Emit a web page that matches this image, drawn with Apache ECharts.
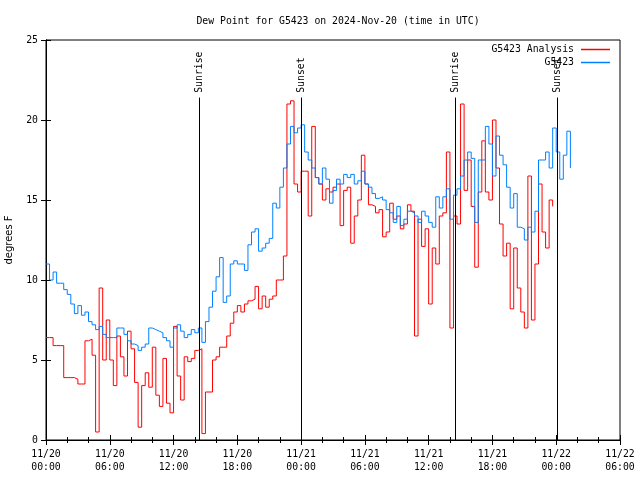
<!DOCTYPE html>
<html><head><meta charset="utf-8">
<script src="https://cdn.jsdelivr.net/npm/echarts@6/dist/echarts.min.js"></script>
<style>html,body{margin:0;padding:0;background:#fff}#c{width:640px;height:480px}</style>
</head><body><div id="c"></div>
<script>
// sampling: hours since 11/20 00:00 UTC, one reading every 20 minutes
const sampleStepHours = 1/3;
const analysisValues = [
6.4,6.4,5.9,5.9,5.9,3.9,3.9,3.9,3.8,3.5,
3.5,6.2,6.3,5.3,0.5,9.5,5.0,7.5,5.0,3.4,
6.5,5.2,4.0,6.8,5.7,3.6,0.8,3.4,4.2,3.3,
5.8,2.8,2.1,5.1,2.3,1.7,7.1,4.0,2.5,5.2,
4.9,5.1,5.6,5.7,0.4,3.0,3.0,5.0,5.2,5.8,
5.8,6.5,7.3,8.0,8.4,8.0,8.5,8.7,8.8,9.6,
8.2,9.0,8.3,8.8,9.0,10.0,10.0,11.5,21.0,21.2,
16.0,15.5,16.8,16.8,14.0,19.6,16.4,16.0,15.0,15.7,
15.5,15.8,16.0,13.4,15.6,15.8,12.3,14.0,15.0,17.8,
16.0,14.7,14.6,14.2,14.4,12.7,13.0,14.8,13.8,14.0,
13.2,13.5,14.7,14.3,6.5,13.8,12.1,13.2,8.5,12.0,
11.0,14.0,14.2,18.0,7.0,14.0,13.5,21.0,15.6,17.5,
14.6,10.8,15.5,18.7,15.5,15.0,20.0,17.0,13.5,11.5,
12.3,8.2,12.0,9.5,8.0,7.0,16.5,7.5,11.0,16.0,
13.0,12.0,15.0,14.6
];
const stationValues = [
11.0,10.0,10.5,9.8,9.8,9.4,9.1,8.5,7.9,8.4,
7.8,8.0,7.4,7.2,6.9,7.1,6.6,6.4,6.4,6.4,
7.0,7.0,6.6,6.2,6.0,5.9,5.6,5.8,6.0,7.0,
6.9,6.8,6.7,6.4,6.2,5.8,7.0,7.2,6.8,6.4,
6.6,6.9,6.7,7.0,6.1,7.4,8.3,9.3,10.2,11.4,
8.6,9.0,11.0,11.2,11.0,11.0,10.6,12.2,13.0,13.2,
11.8,12.0,12.3,12.6,14.8,14.5,15.8,17.0,18.5,19.6,
19.2,19.5,19.7,18.0,17.5,17.0,16.4,16.0,17.0,16.3,
14.8,15.6,16.3,16.0,16.6,16.4,16.6,16.0,16.2,16.8,
16.0,15.8,15.4,15.1,15.2,15.0,14.4,14.2,13.6,14.6,
13.4,13.8,14.3,14.2,14.0,13.6,14.3,14.0,13.6,13.3,
15.2,14.5,15.2,15.7,13.8,15.3,15.7,16.5,17.5,18.0,
17.6,13.6,17.5,17.5,19.6,18.5,16.5,19.0,17.8,17.2,
15.8,14.5,15.4,13.3,13.2,12.5,13.3,13.0,14.3,17.5,
17.5,18.0,17.0,19.5,18.0,16.3,17.8,19.3,17.0
];
const sunTimes = [14.4, 24.02, 38.5, 48.07];
const sunLabels = ['Sunrise', 'Sunset', 'Sunrise', 'Sunset'];
const seriesNames = ['G5423 Analysis', 'G5423'];
const yTicks = [0, 5, 10, 15, 20, 25];
const xTickHours = [0, 6, 12, 18, 24, 30, 36, 42, 48, 54];

const FONT = '"DejaVu Sans Mono", "Liberation Mono", monospace';
const FS = 9.8;
const toPairs = vals => vals.map((v, i) => [i * sampleStepHours, v]);
const pad = n => (n < 10 ? '0' : '') + n;
const xLabel = h => '11/' + (20 + Math.floor(h / 24)) + '\n' + pad(h % 24) + ':00';

const chart = echarts.init(document.getElementById('c'), null, {renderer: 'canvas'});
const xBase = {type: 'value', min: xTickHours[0], max: xTickHours[xTickHours.length - 1], interval: 6};
const yBase = {type: 'value', min: yTicks[0], max: yTicks[yTicks.length - 1], interval: 5};
chart.setOption({
  animation: false,
  backgroundColor: '#fff',
  title: {
    text: 'Dew Point for G5423 on 2024-Nov-20 (time in UTC)',
    left: 333, top: 11, textAlign: 'center',
    textStyle: {fontFamily: FONT, fontSize: FS, fontWeight: 'normal', color: '#000'}
  },
  legend: {
    orient: 'vertical', right: 30, top: 43, align: 'right', padding: 0,
    itemWidth: 29, itemHeight: 1.5, itemGap: 0, icon: 'rect', selectedMode: false,
    textStyle: {fontFamily: FONT, fontSize: FS, color: '#000', lineHeight: 13, padding: [0, 2, 0, 0]},
    data: seriesNames
  },
  grid: {left: 46, right: 20, top: 40, bottom: 40, show: true, borderColor: '#000', borderWidth: 1,
    containLabel: false, outerBoundsMode: 'none'},
  xAxis: [
    Object.assign({}, xBase, {
      position: 'bottom',
      axisLine: {show: true, lineStyle: {color: '#000'}},
      axisTick: {show: true, inside: true, length: 5, lineStyle: {color: '#000'}},
      minorTick: {show: true, splitNumber: 3, length: 3, lineStyle: {color: '#000'}},
      splitLine: {show: false},
      axisLabel: {fontFamily: FONT, fontSize: FS, color: '#000', margin: 8, lineHeight: 13, formatter: xLabel}
    }),
    Object.assign({}, xBase, {
      position: 'top',
      axisLine: {show: true, lineStyle: {color: '#000'}},
      axisTick: {show: true, inside: true, length: 5, lineStyle: {color: '#000'}},
      minorTick: {show: true, splitNumber: 3, length: 3, lineStyle: {color: '#000'}},
      splitLine: {show: false},
      axisLabel: {show: false}
    })
  ],
  yAxis: [
    Object.assign({}, yBase, {
      position: 'left',
      name: 'degrees F', nameLocation: 'middle', nameGap: 32, nameRotate: 90,
      nameTextStyle: {fontFamily: '"DejaVu Sans", sans-serif', fontSize: 10, color: '#000'},
      axisLine: {show: true, lineStyle: {color: '#000'}},
      axisTick: {show: true, inside: true, length: 5, lineStyle: {color: '#000'}},
      splitLine: {show: false},
      axisLabel: {fontFamily: FONT, fontSize: FS, color: '#000', margin: 8}
    }),
    Object.assign({}, yBase, {
      position: 'right',
      axisLine: {show: true, lineStyle: {color: '#000'}},
      axisTick: {show: true, inside: true, length: 5, lineStyle: {color: '#000'}},
      splitLine: {show: false},
      axisLabel: {show: false}
    })
  ],
  series: [
    {
      name: seriesNames[0], type: 'line', step: 'end', showSymbol: false, symbol: 'none',
      data: toPairs(analysisValues), color: '#ff0000',
      lineStyle: {width: 1, color: '#ff0000'}, z: 2
    },
    {
      name: seriesNames[1], type: 'line', step: 'end', showSymbol: false, symbol: 'none',
      data: toPairs(stationValues), color: '#0080ff',
      lineStyle: {width: 1, color: '#0080ff'}, z: 3
    },
    {
      type: 'custom', z: 4, silent: true,
      data: sunTimes.map(t => [t]),
      renderItem: function (params, api) {
        const t = api.value(0);
        const top = api.coord([t, 21.4]);
        const bot = api.coord([t, 0]);
        const lab = api.coord([t, 21.7]);
        const x = Math.round(top[0]) + 0.5;
        return {
          type: 'group',
          children: [
            {type: 'line', shape: {x1: x, y1: top[1], x2: x, y2: bot[1]}, style: {stroke: '#000', lineWidth: 1}},
            {type: 'text', x: x, y: lab[1], rotation: Math.PI / 2,
              style: {text: sunLabels[params.dataIndex], fill: '#000', font: FS + 'px ' + FONT, align: 'left', verticalAlign: 'middle'}}
          ]
        };
      }
    }
  ]
});
</script>
</body></html>
